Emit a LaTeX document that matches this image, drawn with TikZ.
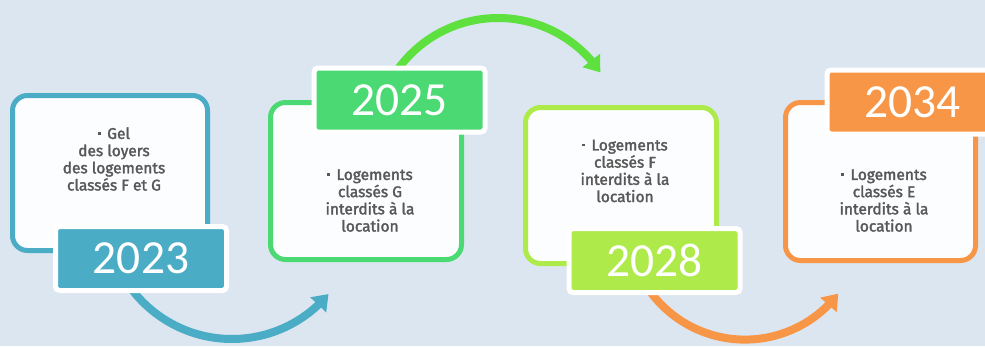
\documentclass[tikz,border=0pt]{standalone}
\usepackage{fontspec}
\setmainfont{Fira Sans}
\newfontfamily\yearfont{Carlito}
\newfontfamily\txtfont[FakeBold=2]{Fira Sans}
\usetikzlibrary{arrows.meta,bending}
\definecolor{bg}{RGB}{220,230,241}
\definecolor{boxfill}{RGB}{252,253,255}
\definecolor{cteal}{RGB}{75,172,198}
\definecolor{cgreen}{RGB}{75,217,115}
\definecolor{carc}{RGB}{94,224,63}
\definecolor{clime}{RGB}{173,234,74}
\definecolor{corange}{RGB}{247,150,70}
\definecolor{txtgrey}{RGB}{88,88,88}
\newcommand{\bul}{\raisebox{0.28em}{\rule{2.6pt}{2.6pt}}\ \,}
\tikzset{
  card/.style={draw=#1, line width=5pt, fill=boxfill, rounded corners=15pt},
  yearbox/.style={fill=#1, draw=white, line width=5pt, rounded corners=4pt,
     minimum width=171pt, minimum height=64pt, inner sep=0pt,
     font=\yearfont\fontsize{47.5}{50}\selectfont, text=white},
  txt/.style={align=center, text=txtgrey, font=\txtfont\fontsize{15.5}{17.2}\selectfont, inner sep=0pt},
  flow/.style={draw=#1, line width=8pt, -{Triangle[width=21pt,length=15pt,flex]}}
}
\begin{document}
\begin{tikzpicture}[x=1pt,y=-1pt]
\useasboundingbox[fill=bg] (0,0) rectangle (985,346);
% arcs (behind everything)
\coordinate (a1c) at (232,213);
\coordinate (a2c) at (498,141.5);
\coordinate (a3c) at (745,222);
\draw[flow=cteal] (a1c) ++(145:126) arc[start angle=145, end angle=40, radius=126];
\draw[flow=carc] (a2c) ++(-148:123.5) arc[start angle=-148, end angle=-34, radius=123.5];
\draw[flow=corange] (a3c) ++(145:117.6) arc[start angle=145, end angle=37.5, radius=117.6];
% cards
\draw[card=cteal] (12.5,95.5) rectangle (207.5,250.5);
\draw[card=cgreen] (270.5,102.5) rectangle (461.5,259.5);
\draw[card=clime] (525.5,107.5) rectangle (716.5,263.5);
\draw[card=corange] (785.5,102.5) rectangle (975.5,260.5);
% texts
\node[txt] (t1) at (114,159) {\bul Gel\\des loyers\\des logements\\classés F et G};
\node[txt] (t2) at (370,200.5) {\bul Logements\\classés G\\interdits à la\\location};
\node[txt] (t3) at (625,171) {\bul Logements\\classés F\\interdits à la\\location};
\node[txt] (t4) at (884,200.5) {\bul Logements\\classés E\\interdits à la\\location};
% year labels
\node[yearbox=cteal] (y1) at (141,258.5) {2023};
\node[yearbox=cgreen] (y2) at (399.5,100) {2025};
\node[yearbox=clime] (y3) at (654.5,260.5) {2028};
\node[yearbox=corange] (y4) at (912.5,102) {2034};
\end{tikzpicture}
\end{document}
